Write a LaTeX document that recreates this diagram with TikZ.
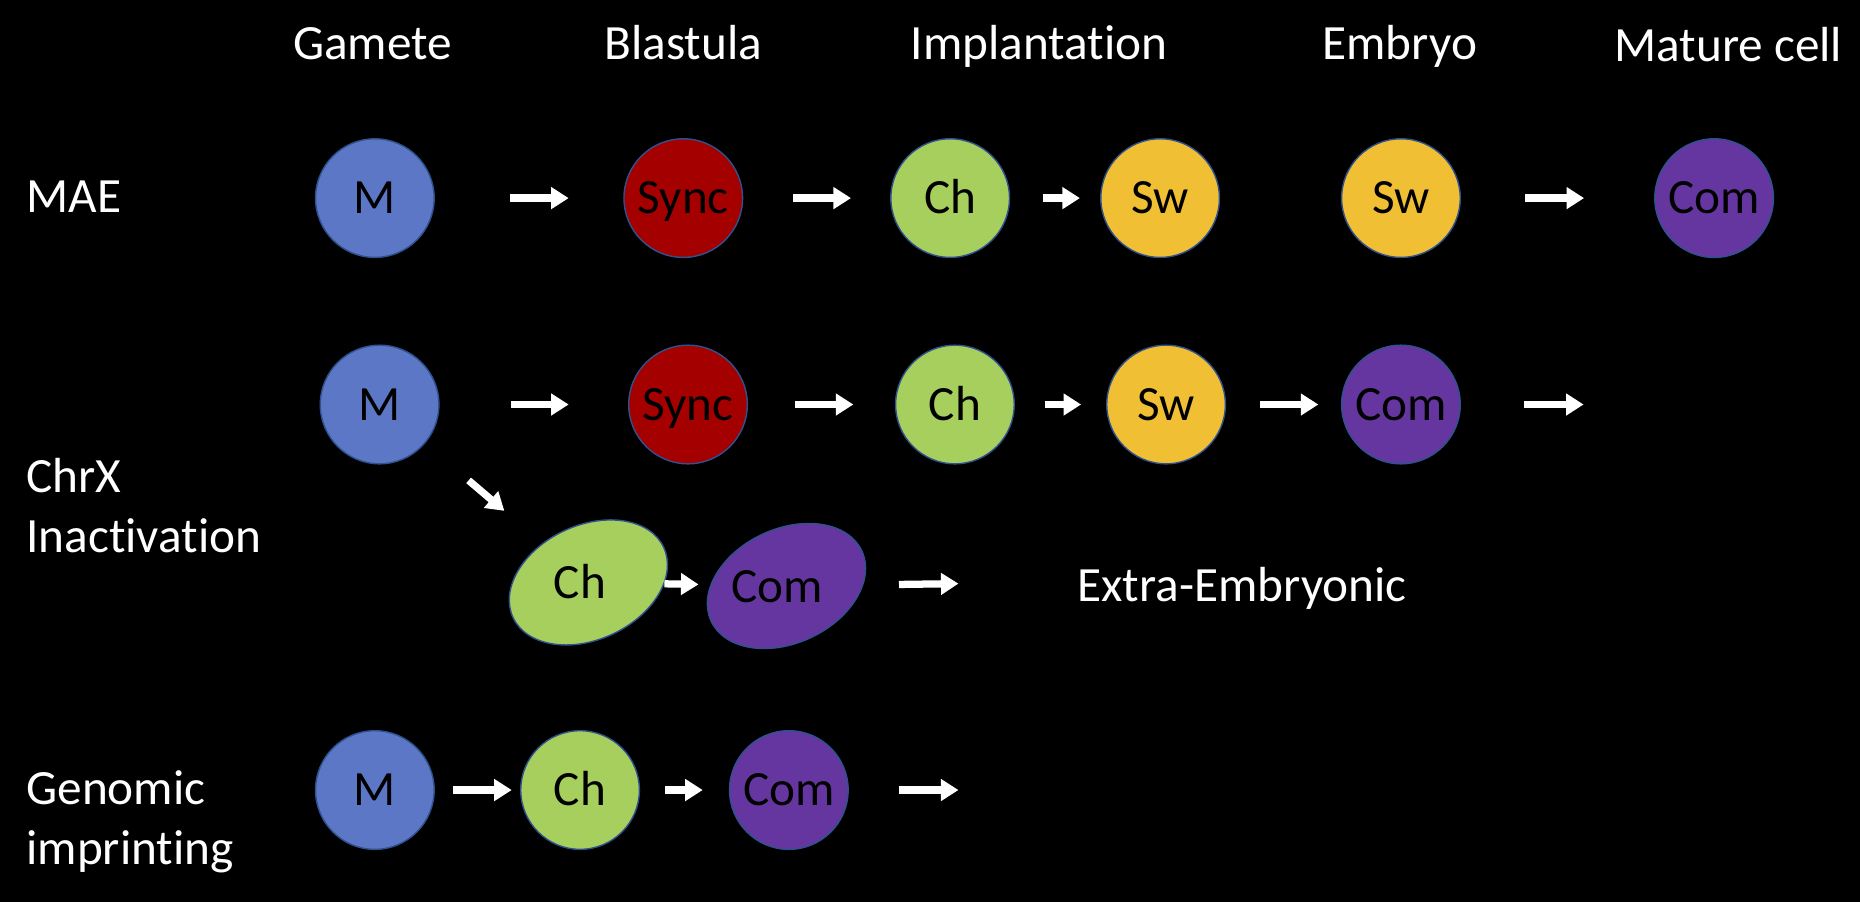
\documentclass[tikz,border=0pt]{standalone}
\usepackage{fontspec}
\setmainfont[RawFeature=-liga, RawFeature=-clig, RawFeature=-calt, RawFeature=-dlig, RawFeature=-rlig]{Carlito}
\usepackage{tikz}
\usetikzlibrary{arrows.meta,shapes.geometric}
\definecolor{mBlue}{RGB}{91,119,198}
\definecolor{syncRed}{RGB}{165,0,0}
\definecolor{chGreen}{RGB}{166,207,94}
\definecolor{swYellow}{RGB}{241,191,51}
\definecolor{comPurple}{RGB}{102,54,160}
\definecolor{cellEdge}{RGB}{47,82,143}
\tikzset{
cellText/.style = {font=\fontsize{28}{34}\selectfont, text height=17.7pt,
                   text depth=0pt, inner sep=0pt}
}
\tikzset{
cell/.style = {circle, cellText, draw=cellEdge, line width=0.8pt, fill=#1,
               minimum size=2.37cm},
cell/.default = mBlue % gamete colour
}
\tikzset{
flow/.style = {-{Triangle[length=0.35cm, width=0.42cm]}, white, line width=0.145cm},
gap/.style 2 args = {shorten <=#1*0.0237cm, shorten >=#2*0.0237cm}
}
\tikzset{
lbl/.style = {white, font=\fontsize{28}{34.3}\selectfont, inner sep=0pt}
}

\begin{document}
\begin{tikzpicture}[x=0.0237cm, y=-0.0237cm]
    \fill[black] (0,0) rectangle (1568,760);

    % stages
    \node[lbl, anchor=base] (gamete) at (314,50) {Gamete};
    \node[lbl, anchor=base] (blastula) at (576,50) {Blastula};
    \node[lbl, anchor=base] (implant) at (876,50) {Implantat\kern0pt ion};
    \node[lbl, anchor=base] (embryo) at (1180,50) {Embryo};
    \node[lbl, anchor=base] (mature) at (1457,52) {Mature cell};

    % processes
    \node[lbl, anchor=base west] (maeLabel) at (22,179) {MAE};
    \node[lbl, anchor=west, align=left] (chrxLabel) at (22,426) {ChrX\\Inactivat\kern0pt ion};
    \node[lbl, anchor=west, align=left] (genLabel) at (22,693) {Genomic\\imprinting};

    % MAE
    \node[cell] (mMae) at (316,167) {M};
    \node[cell=syncRed] (syncMae) at (576,167) {Sync};
    \node[cell=chGreen] (chMae) at (801,167) {Ch};
    \node[cell=swYellow] (swMae) at (978,167) {Sw};
    \node[cell=swYellow] (swEmbMae) at (1181,167) {Sw};
    \node[cell=comPurple] (comMae) at (1445,167) {Com};

    \draw[flow, gap={63}{46}] (mMae) -- (syncMae);
    \draw[flow, gap={42}{33}] (syncMae) -- (chMae);
    \draw[flow, gap={28}{17}] (chMae) -- (swMae);
    \draw[flow, gap={54}{59}] (swEmbMae) -- (comMae);

    % ChrX inactivation
    \node[cell] (mChrx) at (320,341) {M};
    \node[cell=syncRed] (syncChrx) at (580,341) {Sync};
    \node[cell=chGreen] (chChrx) at (805,341) {Ch};
    \node[cell=swYellow] (swChrx) at (983,341) {Sw};
    \node[cell=comPurple] (comChrx) at (1181,341) {Com};
    \coordinate (chrxEnd) at (1335,341);

    \draw[flow, gap={60}{50}] (mChrx) -- (syncChrx);
    \draw[flow, gap={40}{35}] (syncChrx) -- (chChrx);
    \draw[flow, gap={25}{21}] (chChrx) -- (swChrx);
    \draw[flow, gap={29}{19}] (swChrx) -- (comChrx);
    \draw[flow, gap={53}{0}] (comChrx) -- (chrxEnd);

    \node[cell=chGreen, ellipse, rotate=25, minimum width=3.32cm, minimum height=2.28cm] (chExtra) at (496,491) {};
    \node[cellText] (chExtraTxt) at (489,491) {Ch};
    \node[cell=comPurple, ellipse, rotate=25, minimum width=3.32cm, minimum height=2.28cm] (comExtra) at (663,494) {};
    \node[cellText] (comExtraTxt) at (655,495) {Com};
    \coordinate (extraEnd) at (808,492);
    \node[lbl, anchor=base west] (extraLabel) at (908,507) {Extra-Embryonic};

    \draw[flow, gap={48}{42}] (mChrx) -- (chExtra);
    \draw[flow, gap={0}{10}] (chExtra) -- (comExtra);
    \draw[flow, gap={30}{0}] (comExtra) -- (extraEnd);

    % genomic imprinting
    \node[cell] (mGen) at (316,666) {M};
    \node[cell=chGreen] (chGen) at (489,666) {Ch};
    \node[cell=comPurple] (comGen) at (665,666) {Com};
    \coordinate (genEnd) at (808,666);

    \draw[flow, gap={15}{7}] (mGen) -- (chGen);
    \draw[flow, gap={21}{22}] (chGen) -- (comGen);
    \draw[flow, gap={42}{0}] (comGen) -- (genEnd);
\end{tikzpicture}
\end{document}
